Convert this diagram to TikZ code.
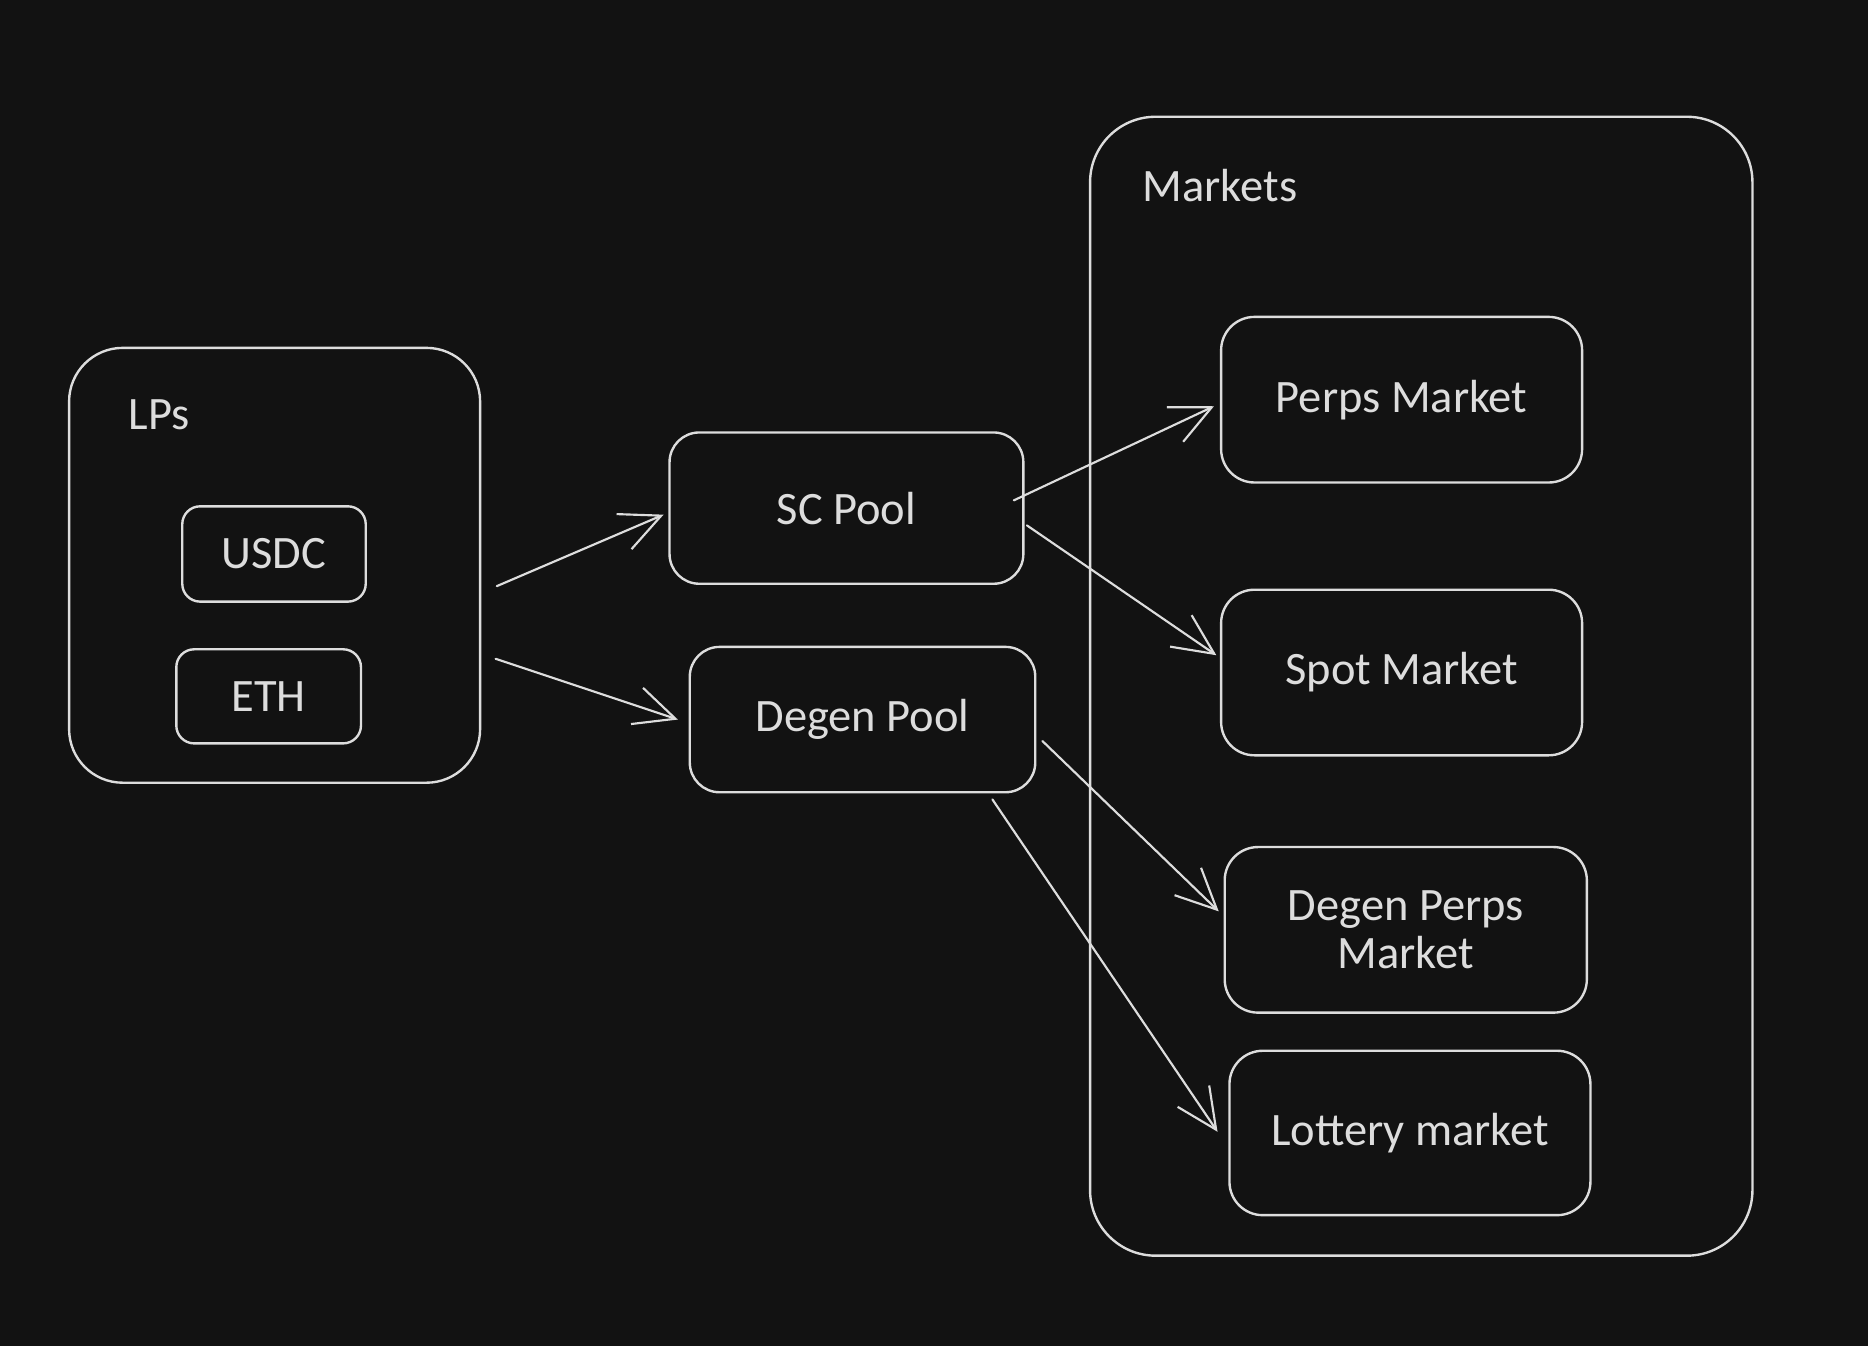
\documentclass[tikz,border=0pt]{standalone}
\usepackage{fontspec}
\setmainfont{Carlito}
\usetikzlibrary{arrows.meta}
\definecolor{bgc}{HTML}{121212}
\definecolor{ink}{HTML}{DDDDDD}
\begin{document}
\begin{tikzpicture}[x=1pt,y=-1pt,
  box/.style={draw=ink,line width=2pt,fill=bgc,text=ink,inner sep=0pt,align=center,
    font=\fontsize{39}{40}\selectfont},
  lbl/.style={text=ink,inner sep=0pt,anchor=west,font=\fontsize{39}{40}\selectfont},
  arr/.style={draw=ink,line width=1.8pt,line cap=round,
    -{Straight Barb[length=34pt,width=32pt,line width=1.8pt]}}]
\fill[bgc] (0,0) rectangle (1568,1130);
\useasboundingbox (0,0) rectangle (1568,1130);
% containers
\node[box,rounded corners=45pt,minimum width=345pt,minimum height=365pt] (lps) at (230.5,474.5) {};
\node[lbl] (lpslbl) at (108,348) {LPs};
\node[box,rounded corners=55pt,minimum width=556pt,minimum height=956pt] (markets) at (1193,576) {};
\node[lbl] (mktlbl) at (959,156) {Markets};
% assets
\node[box,rounded corners=15pt,minimum width=154pt,minimum height=80pt] (usdc) at (230,465) {USDC};
\node[box,rounded corners=15pt,minimum width=155pt,minimum height=79pt] (eth) at (225.5,584.5) {ETH};
% pools
\node[box,rounded corners=25pt,minimum width=297pt,minimum height=127pt] (sc) at (710.5,426.5) {SC Pool};
\node[box,rounded corners=25pt,minimum width=290pt,minimum height=122pt] (degen) at (724,604) {Degen Pool};
% markets
\node[box,rounded corners=28pt,minimum width=303pt,minimum height=139pt] (perps) at (1176.5,335.5) {Perps Market};
\node[box,rounded corners=28pt,minimum width=303pt,minimum height=139pt] (spot) at (1176.5,564.5) {Spot Market};
\node[box,rounded corners=28pt,minimum width=304pt,minimum height=139pt] (dperps) at (1180,780.5) {Degen Perps\\Market};
\node[box,rounded corners=28pt,minimum width=303pt,minimum height=138pt] (lottery) at (1183.5,951) {Lottery market};
% arrows
\draw[arr] ([shift={(13,17.5)}]lps.east) -- ([shift={(-4,5.5)}]sc.west);
\draw[arr] ([shift={(12,78.5)}]lps.east) -- ([shift={(-9,0)}]degen.west);
\draw[arr] ([shift={(-9,-6.5)}]sc.east) -- ([shift={(-5,5.5)}]perps.west);
\draw[arr] ([shift={(2,14.5)}]sc.east) -- ([shift={(-3,-14.5)}]spot.west);
\draw[arr] ([shift={(5,18)}]degen.east) -- ([shift={(-4,-15.5)}]dperps.west);
\draw[arr] ([shift={(109,5)}]degen.south) -- ([shift={(-9,-1)}]lottery.west);
\end{tikzpicture}
\end{document}
